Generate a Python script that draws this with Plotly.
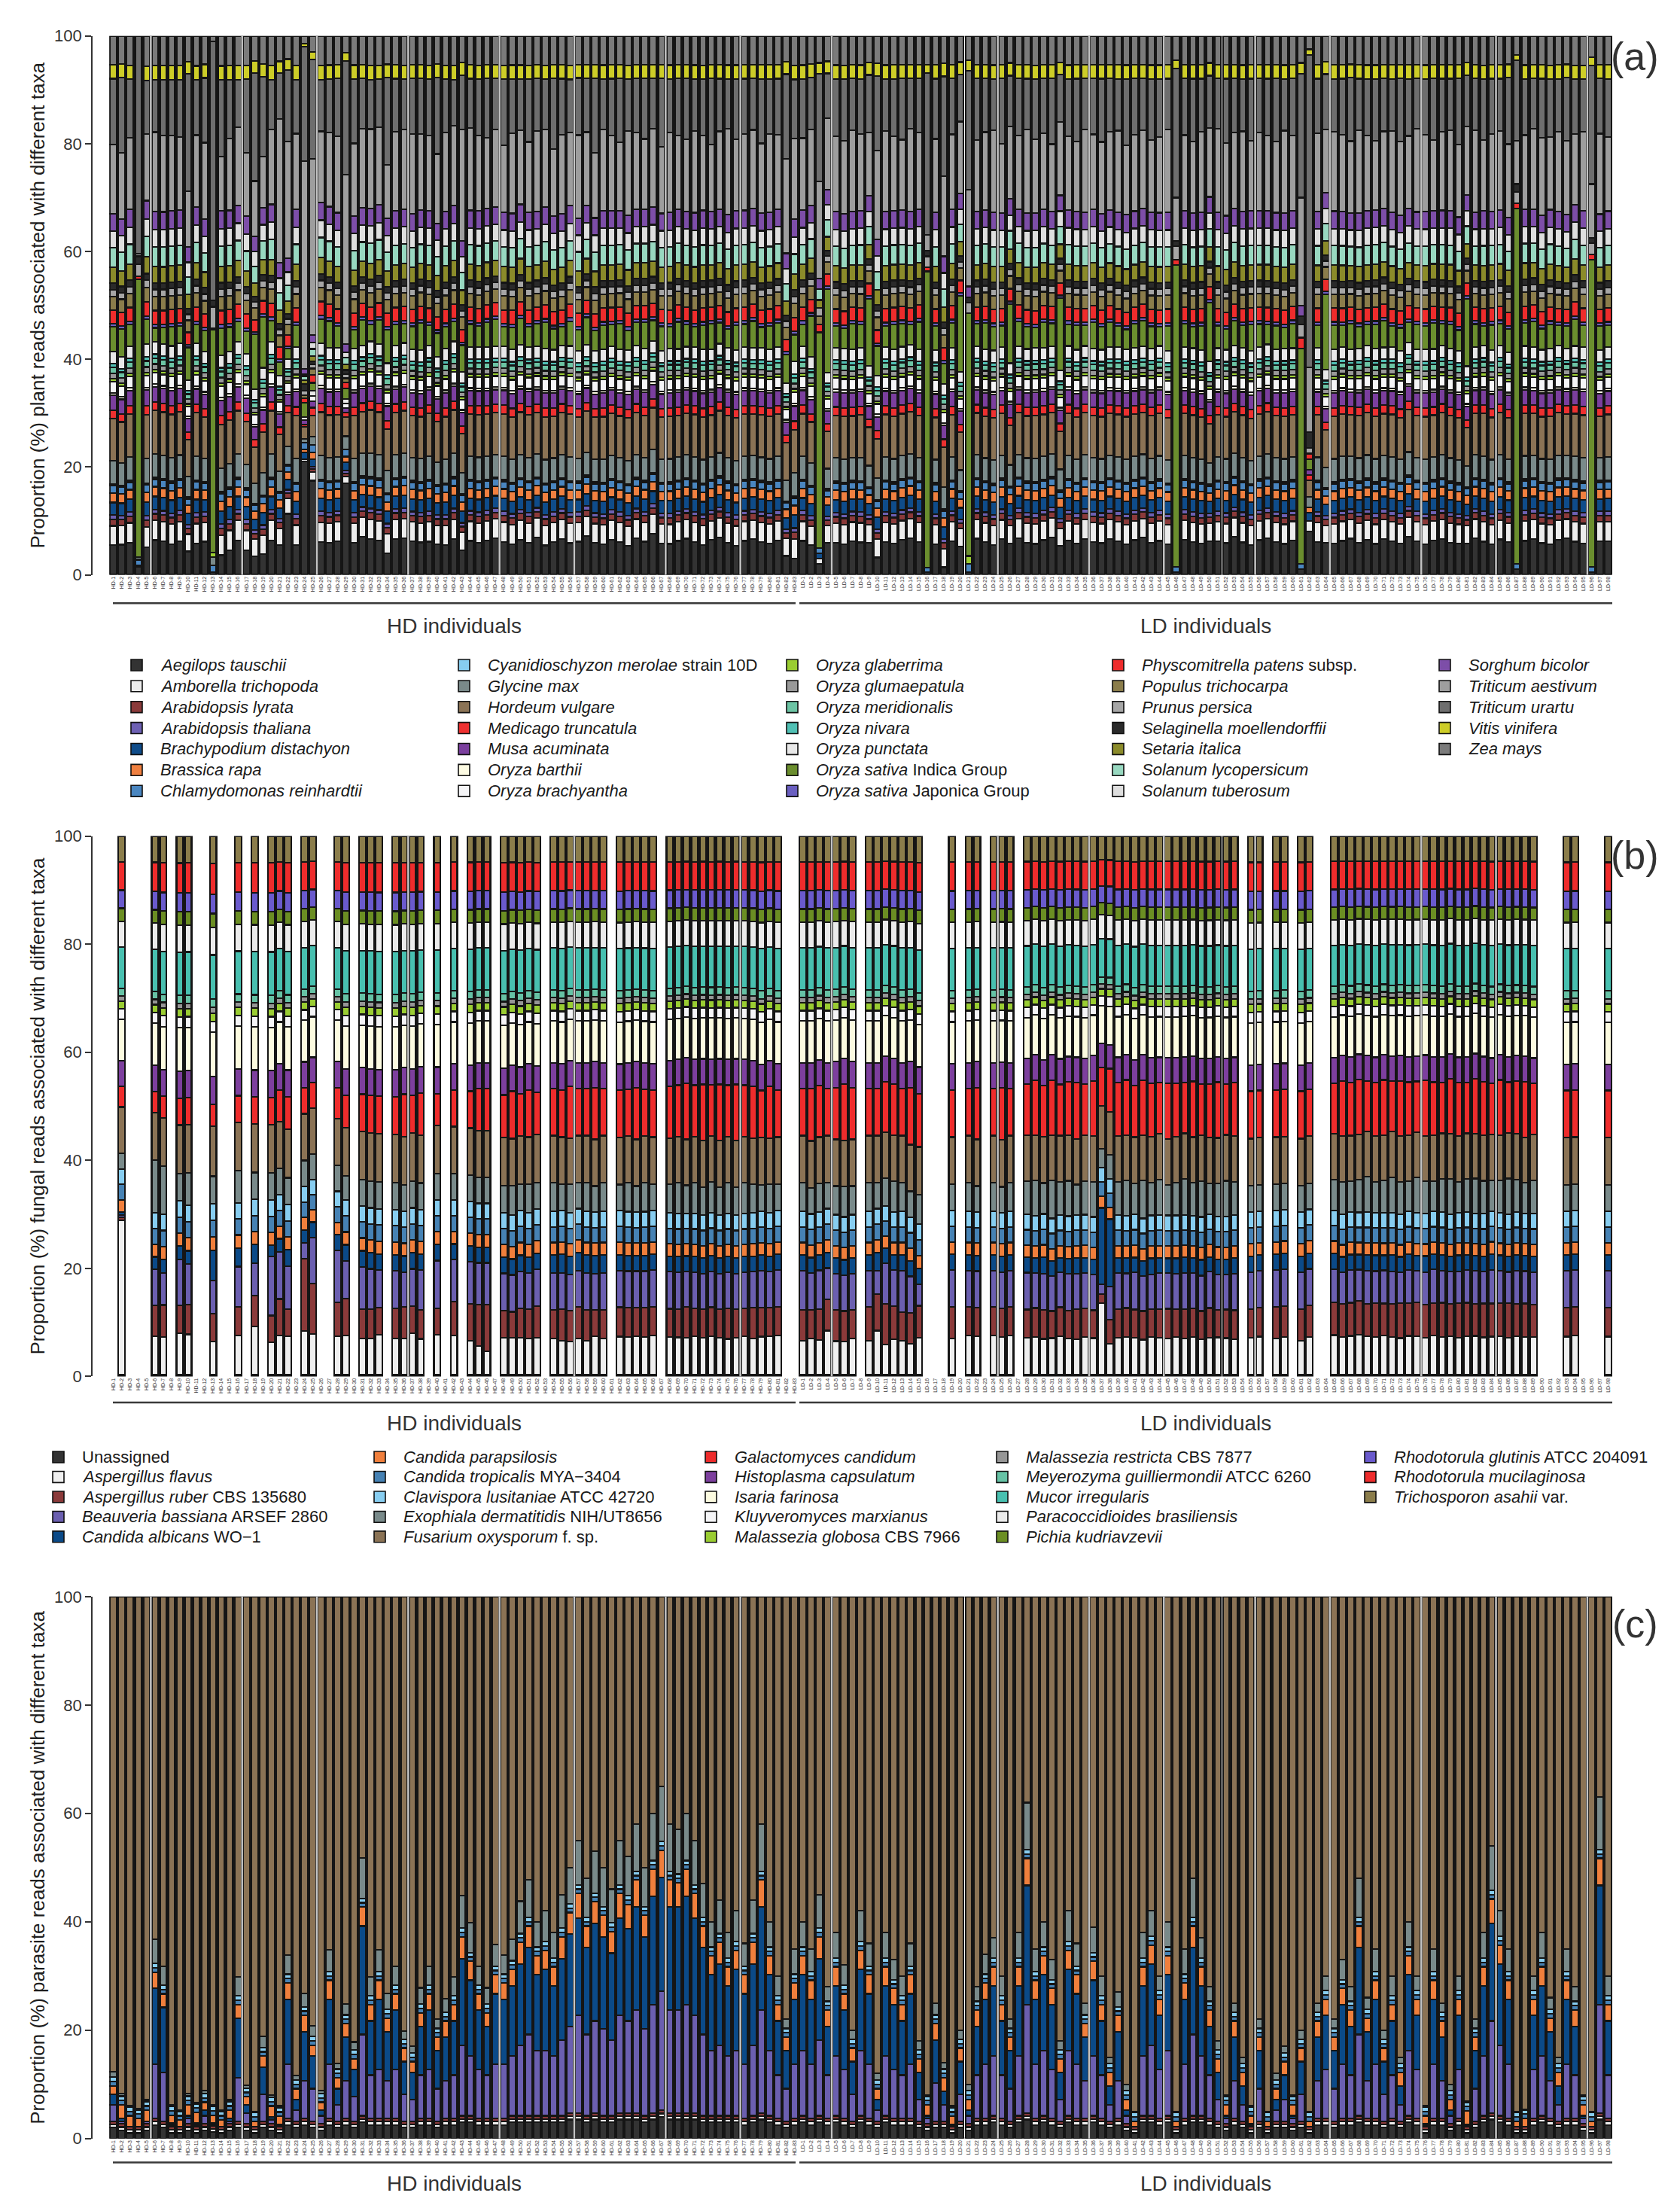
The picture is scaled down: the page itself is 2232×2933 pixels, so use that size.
import plotly.graph_objects as go

W, H = 2232, 2933
N = 181          # samples shown on every panel
N_HD = 83        # first 83 samples are HD individuals, the rest LD

sample_labels = [f"HD-{k}" for k in range(1, N_HD + 1)] + [f"LD-{k}" for k in range(1, N - N_HD + 1)]
# positions of the light-grey group separators (sample index where a new block starts)
group_breaks = [5, 16, 25, 36, 47, 56, 67, 76, 87, 107, 118, 127, 138, 147, 158, 167, 178]

# ---------------------------------------------------------------- panel (a) plants
plant_codes = ["Aeg", "Amb", "Aly", "Ath", "Bdi", "Bra", "Cre", "Cme", "Gma", "Hvu", "Mtr", "Mac",
               "Oba", "Obr", "Ogl", "Ogu", "Ome", "Oni", "Opu", "Osi", "Osj", "Ppa", "Ptr", "Ppe",
               "Smo", "Sit", "Sly", "Stu", "Sbi", "Tae", "Tur", "Vvi", "Zma"]
plant_legend = ["<i>Aegilops tauschii</i>", "<i>Amborella trichopoda</i>", "<i>Arabidopsis lyrata</i>",
                "<i>Arabidopsis thaliana</i>", "<i>Brachypodium distachyon</i>", "<i>Brassica rapa</i>",
                "<i>Chlamydomonas reinhardtii</i>", "<i>Cyanidioschyzon merolae</i> strain 10D",
                "<i>Glycine max</i>", "<i>Hordeum vulgare</i>", "<i>Medicago truncatula</i>",
                "<i>Musa acuminata</i>", "<i>Oryza barthii</i>", "<i>Oryza brachyantha</i>",
                "<i>Oryza glaberrima</i>", "<i>Oryza glumaepatula</i>", "<i>Oryza meridionalis</i>",
                "<i>Oryza nivara</i>", "<i>Oryza punctata</i>", "<i>Oryza sativa</i> Indica Group",
                "<i>Oryza sativa</i> Japonica Group", "<i>Physcomitrella patens</i> subsp.",
                "<i>Populus trichocarpa</i>", "<i>Prunus persica</i>", "<i>Selaginella moellendorffii</i>",
                "<i>Setaria italica</i>", "<i>Solanum lycopersicum</i>", "<i>Solanum tuberosum</i>",
                "<i>Sorghum bicolor</i>", "<i>Triticum aestivum</i>", "<i>Triticum urartu</i>",
                "<i>Vitis vinifera</i>", "<i>Zea mays</i>"]
plant_colors = ["#333333", "#ececec", "#8b3a3a", "#6d60b3", "#0f4c8a", "#f08040", "#4a86c0",
                "#87cef0", "#7a8a8a", "#8b7355", "#ee3030", "#7b3f9e", "#fdfbe3", "#f5f5f7",
                "#9acd32", "#999999", "#6cc4a4", "#50c0b4", "#e8e8e8", "#6b8e2e", "#6a5fc0",
                "#ee2c2c", "#8b7d4b", "#a6a6a6", "#2a2a2a", "#8b8b2a", "#98d8c0", "#dedede",
                "#7d4ea8", "#9e9e9e", "#6e6e6e", "#cdcd28", "#7b7b7b"]
# typical composition (%) of an ordinary bar
plant_typical = [6.4, 3.7, 1.2, 0.8, 2.4, 1.8, 1.4, 0.3, 4.4, 8.0, 1.6, 2.8, 0.5, 2.1, 0.6, 1.0, 1.1,
                 0.7, 2.3, 2.6, 0.6, 2.6, 2.6, 1.3, 1.2, 3.0, 3.7, 3.2, 3.3, 14.7, 9.7, 2.6, 5.5]
# per-sample shares of the taxa that visibly change from bar to bar (0 = see plant_special)
plant_aegilops = [5.6, 5.9, 6.0, 0, 5.0, 6.4, 6.2, 5.7, 6.2, 5.0,
                  5.7, 6.4, 0, 3.6, 4.5, 6.4, 4.6, 4.1, 4.1, 6.4,
                  6.4, 14.5, 5.5, 0, 0, 6.0, 6.0, 6.4, 0, 6.0,
                  7.3, 6.6, 6.4, 4.2, 6.8, 6.8, 6.4, 6.2, 6.2, 6.0,
                  5.5, 6.6, 5.0, 6.4, 6.0, 6.5, 7.0, 6.2, 5.8, 6.6,
                  6.0, 7.2, 5.5, 6.3, 6.8, 5.9, 6.4, 7.5, 6.1, 5.7,
                  6.6, 6.2, 5.4, 6.9, 6.3, 7.8, 6.0, 5.8, 6.5, 6.9,
                  6.2, 5.6, 6.7, 7.1, 6.0, 5.5, 6.4, 6.8, 6.2, 5.9,
                  6.5, 4.0, 3.0, 6.4, 5.8, 0, 6.9, 6.0, 5.7, 6.4,
                  6.1, 6.7, 3.5, 6.2, 5.9, 6.6, 7.0, 6.3, 0, 5.8,
                  1.5, 6.4, 6.0, 0, 6.9, 6.2, 5.6, 6.8, 6.4, 7.0,
                  6.1, 5.8, 6.6, 7.2, 6.0, 6.5, 5.9, 6.8, 6.2, 6.0,
                  6.9, 6.3, 5.7, 6.6, 7.1, 6.0, 6.4, 5.8, 0, 6.7,
                  6.2, 5.9, 6.8, 6.4, 6.0, 7.3, 6.1, 5.6, 6.6, 6.9,
                  6.3, 5.8, 6.5, 0, 0, 6.2, 6.8, 5.9, 6.4, 7.0,
                  6.1, 6.6, 5.8, 6.9, 6.3, 6.0, 7.2, 6.4, 5.7, 6.6,
                  6.8, 6.1, 5.9, 6.5, 7.0, 6.2, 5.8, 6.7, 6.3, 0,
                  6.4, 6.9, 6.0, 5.7, 6.6, 7.1, 6.2, 5.9, 0, 6.5,
                  6.3]
plant_indica = [4.7, 5.5, 4.0, 0, 4.5, 2.6, 3.0, 3.5, 3.2, 7.0,
                3.5, 4.0, 0, 5.0, 4.5, 3.8, 4.2, 12.0, 10.0, 4.0,
                3.0, 2.5, 4.0, 0, 0, 4.5, 5.0, 4.2, 0, 3.5,
                4.8, 3.2, 4.5, 6.5, 4.0, 3.6, 4.4, 5.2, 3.8, 4.6,
                4.1, 3.7, 5.5, 4.3, 3.9, 4.8, 5.1, 3.6, 4.2, 4.9,
                3.8, 4.4, 5.0, 4.0, 3.5, 4.6, 4.1, 5.3, 3.9, 4.5,
                4.2, 4.8, 3.7, 4.4, 5.0, 3.9, 4.6, 4.1, 5.2, 4.3,
                3.8, 4.5, 4.9, 4.0, 3.6, 4.7, 4.3, 5.1, 3.9, 4.4,
                4.6, 6.0, 5.0, 4.2, 8.0, 0, 18.0, 4.1, 3.8, 4.9,
                4.3, 14.0, 6.0, 4.0, 4.7, 4.4, 3.9, 5.2, 0, 4.6,
                4.0, 4.8, 16.0, 0, 4.3, 5.0, 4.5, 4.1, 12.0, 4.7,
                4.2, 3.8, 4.9, 4.4, 15.0, 4.1, 4.6, 3.9, 5.0, 4.3,
                4.8, 4.0, 3.7, 4.5, 4.9, 4.2, 3.6, 4.7, 0, 4.4,
                4.1, 4.6, 12.0, 4.3, 3.9, 4.8, 4.2, 5.0, 4.4, 3.8,
                4.5, 4.0, 4.7, 0, 0, 4.3, 16.0, 4.6, 4.1, 4.9,
                4.2, 3.9, 4.6, 5.1, 4.0, 4.4, 3.8, 4.7, 4.3, 5.0,
                4.1, 4.6, 4.0, 14.0, 4.4, 3.7, 4.8, 4.2, 4.5, 0,
                4.3, 4.9, 4.0, 4.6, 3.8, 4.4, 5.0, 4.1, 0, 4.7,
                4.2]
plant_aestivum = [13.1, 12.9, 13.4, 0, 12.0, 14.7, 14.2, 13.9, 13.6, 12.0,
                  13.2, 14.8, 0, 9.9, 13.3, 14.5, 11.8, 12.2, 10.1, 13.9,
                  31.2, 27.7, 14.0, 0, 0, 13.1, 13.9, 14.5, 0, 13.7,
                  15.2, 14.7, 14.5, 10.4, 15.0, 14.9, 15.3, 14.6, 14.0, 13.6,
                  14.7, 14.8, 22.9, 15.6, 14.2, 13.5, 14.8, 12.6, 15.1, 14.0,
                  13.2, 15.5, 14.4, 12.8, 14.9, 13.6, 16.0, 14.1, 12.5, 15.2,
                  14.3, 13.0, 15.8, 14.6, 13.4, 14.9, 12.7, 15.0, 14.2, 13.8,
                  15.4, 14.0, 12.9, 14.7, 16.2, 13.5, 14.4, 15.1, 13.2, 14.8,
                  14.1, 20.0, 15.0, 13.6, 14.9, 0, 15.3, 14.2, 13.7, 15.6,
                  14.4, 13.1, 18.0, 15.2, 14.0, 13.4, 15.8, 14.6, 0, 13.9,
                  16.0, 14.3, 15.1, 0, 13.6, 14.8, 15.5, 13.2, 14.7, 14.1,
                  15.9, 13.8, 14.5, 12.9, 15.3, 14.0, 13.3, 15.7, 14.2, 13.6,
                  14.9, 15.4, 13.1, 14.6, 15.0, 13.7, 14.3, 15.8, 0, 14.4,
                  13.5, 15.2, 14.1, 16.0, 13.8, 14.7, 15.1, 13.3, 14.9, 14.2,
                  13.6, 15.5, 14.3, 0, 0, 14.8, 13.4, 15.0, 14.5, 13.9,
                  15.6, 14.2, 13.0, 14.8, 15.3, 14.0, 13.7, 15.9, 14.4, 13.5,
                  14.9, 15.2, 13.8, 14.1, 15.7, 13.3, 14.6, 15.0, 14.2, 0,
                  13.9, 15.4, 14.7, 13.6, 15.1, 14.3, 13.2, 14.8, 0, 15.5,
                  14.0]
plant_urartu = [12.5, 14.8, 10.9, 0, 9.7, 9.7, 10.4, 10.4, 10.6, 25.1,
                10.1, 12.5, 0, 14.1, 10.8, 8.8, 13.8, 23.8, 15.7, 9.2,
                9.9, 17.0, 10.0, 0, 0, 9.5, 10.1, 11.0, 0, 12.2,
                9.7, 9.2, 9.0, 16.8, 10.1, 9.5, 10.6, 10.6, 10.6, 15.0,
                9.9, 8.6, 11.1, 9.3, 10.5, 11.2, 9.8, 12.4, 10.3, 9.6,
                11.8, 10.2, 9.4, 13.5, 10.7, 9.9, 11.0, 10.4, 14.2, 9.5,
                10.8, 12.1, 9.7, 10.3, 11.5, 9.6, 13.0, 10.1, 10.9, 11.7,
                9.8, 10.6, 12.8, 10.0, 9.4, 11.3, 10.5, 9.9, 12.2, 10.4,
                10.7, 18.0, 11.0, 11.2, 10.1, 0, 9.7, 10.8, 11.5, 9.9,
                10.4, 12.0, 15.0, 9.8, 10.9, 11.6, 9.5, 10.3, 0, 11.4,
                20.0, 10.6, 9.9, 0, 11.8, 10.2, 9.7, 12.5, 10.4, 10.9,
                9.6, 11.3, 10.5, 12.7, 9.9, 10.8, 11.9, 9.7, 10.6, 12.0,
                10.3, 9.8, 12.4, 10.7, 10.0, 11.5, 10.9, 9.6, 0, 10.8,
                11.9, 10.1, 10.6, 9.5, 12.2, 10.4, 9.9, 11.7, 10.3, 10.8,
                12.0, 9.7, 10.9, 0, 0, 10.3, 11.8, 10.0, 10.6, 12.3,
                9.8, 10.7, 11.6, 10.2, 9.9, 12.1, 10.8, 9.6, 10.5, 11.9,
                10.1, 9.8, 12.6, 10.7, 10.0, 11.4, 10.5, 9.9, 12.8, 0,
                10.6, 9.7, 11.2, 10.9, 10.0, 12.2, 10.3, 9.8, 0, 10.7,
                11.0]
# bars whose whole composition departs from the usual pattern
plant_special = {
    3: {"Aeg": 1.5, "Amb": 0.3, "Cre": 1.0, "Gma": 0.5, "Osi": 51.5, "Ppa": 0.6, "Ppe": 2.2,
        "Smo": 1.5, "Tae": 0.5, "Tur": 40.4},
    12: {"Aeg": 0.5, "Cre": 1.3, "Gma": 1.5, "Ogl": 0.8, "Osi": 41.3, "Ppa": 0.3, "Ppe": 4.0,
         "Smo": 1.2, "Tur": 48.0, "Zma": 1.0},
    23: {"Aeg": 21.0, "Amb": 0.5, "Bdi": 1.2, "Bra": 0.6, "Cre": 1.2, "Gma": 0.8, "Hvu": 2.2,
         "Mtr": 0.4, "Mac": 0.8, "Obr": 0.6, "Osi": 2.7, "Ppa": 0.8, "Ptr": 0.6, "Ppe": 0.8,
         "Smo": 1.2, "Sit": 0.8, "Sly": 0.6, "Stu": 0.4, "Sbi": 1.0, "Tae": 38.7, "Tur": 21.2,
         "Vvi": 0.6, "Zma": 1.4},
    24: {"Aeg": 17.8, "Amb": 1.6, "Aly": 0.6, "Ath": 0.4, "Bdi": 1.5, "Bra": 1.2, "Cre": 1.5,
         "Gma": 1.5, "Hvu": 4.0, "Mtr": 1.5, "Mac": 1.2, "Obr": 1.0, "Opu": 1.0, "Osi": 1.5,
         "Ppa": 1.5, "Ptr": 1.2, "Ppe": 0.8, "Smo": 0.6, "Sit": 1.0, "Sly": 1.3, "Stu": 1.2,
         "Sbi": 1.5, "Tae": 33.3, "Tur": 18.7, "Vvi": 1.5, "Zma": 3.0},
    28: {"Aeg": 16.6, "Amb": 1.2, "Aly": 0.5, "Ath": 0.6, "Bdi": 1.5, "Bra": 1.0, "Cre": 1.3,
         "Gma": 2.4, "Hvu": 3.5, "Mtr": 0.8, "Mac": 0.8, "Obr": 0.8, "Opu": 0.8, "Osi": 2.0,
         "Ppa": 1.0, "Ptr": 0.8, "Ppe": 0.7, "Smo": 0.8, "Sit": 1.0, "Sly": 1.2, "Stu": 1.0,
         "Sbi": 1.5, "Tae": 30.7, "Tur": 20.6, "Vvi": 1.5, "Zma": 3.0},
    85: {"Aeg": 2.0, "Amb": 1.0, "Bdi": 1.0, "Cre": 1.0, "Osi": 40.0, "Ppa": 1.5, "Ptr": 1.5,
         "Ppe": 1.5, "Sit": 1.5, "Sly": 2.0, "Sbi": 2.0, "Tae": 18.0, "Tur": 20.0, "Vvi": 2.0,
         "Zma": 5.0},
    98: {"Aeg": 0.5, "Cre": 0.8, "Osi": 55.0, "Ppa": 0.8, "Smo": 1.0, "Ppe": 2.0, "Tae": 3.0,
         "Tur": 30.0, "Vvi": 1.5, "Zma": 5.4},
    103: {"Aeg": 0.5, "Cre": 1.5, "Ogl": 1.5, "Osi": 45.0, "Smo": 1.0, "Ppe": 2.0, "Sbi": 2.0,
          "Tae": 18.0, "Tur": 22.0, "Vvi": 2.0, "Zma": 4.5},
    128: {"Aeg": 0.5, "Cre": 1.0, "Osi": 56.0, "Ppa": 1.0, "Smo": 1.0, "Ppe": 2.5, "Tae": 8.0,
          "Tur": 24.0, "Vvi": 1.5, "Zma": 4.5},
    143: {"Aeg": 1.0, "Cre": 1.0, "Osi": 40.0, "Ppa": 2.0, "Smo": 1.5, "Ppe": 2.5, "Sbi": 2.0,
          "Tae": 20.0, "Tur": 23.0, "Vvi": 2.0, "Zma": 5.0},
    144: {"Aeg": 8.0, "Amb": 2.0, "Bdi": 1.5, "Bra": 1.0, "Gma": 2.0, "Hvu": 3.0, "Mtr": 1.0,
          "Mac": 1.0, "Osi": 2.0, "Ppa": 1.0, "Smo": 3.0, "Ppe": 1.0, "Tae": 12.0, "Tur": 58.0,
          "Vvi": 1.0, "Zma": 2.5},
    169: {"Aeg": 1.0, "Cre": 1.0, "Osi": 66.0, "Ppa": 1.0, "Smo": 1.5, "Ppe": 2.0, "Tae": 8.0,
          "Tur": 15.0, "Vvi": 1.0, "Zma": 3.5},
    178: {"Aeg": 0.5, "Cre": 1.0, "Osi": 57.0, "Ppa": 1.0, "Smo": 1.0, "Ppe": 2.0, "Tae": 10.0,
          "Tur": 22.0, "Vvi": 1.5, "Zma": 4.0},
}

# ---------------------------------------------------------------- panel (b) fungi
fungal_codes = ["Una", "Afl", "Aru", "Bba", "Cal", "Cpa", "Ctr", "Clu", "Ede", "Fox", "Gca", "Hca",
                "Ifa", "Kma", "Mgl", "Mre", "Mgu", "Mir", "Pbr", "Pku", "Rgl", "Rmu", "Tas"]
fungal_legend = ["Unassigned", "<i>Aspergillus flavus</i>", "<i>Aspergillus ruber</i> CBS 135680",
                 "<i>Beauveria bassiana</i> ARSEF 2860", "<i>Candida albicans</i> WO\u22121",
                 "<i>Candida parapsilosis</i>", "<i>Candida tropicalis</i> MYA\u22123404",
                 "<i>Clavispora lusitaniae</i> ATCC 42720", "<i>Exophiala dermatitidis</i> NIH/UT8656",
                 "<i>Fusarium oxysporum</i> f. sp.", "<i>Galactomyces candidum</i>",
                 "<i>Histoplasma capsulatum</i>", "<i>Isaria farinosa</i>", "<i>Kluyveromyces marxianus</i>",
                 "<i>Malassezia globosa</i> CBS 7966", "<i>Malassezia restricta</i> CBS 7877",
                 "<i>Meyerozyma guilliermondii</i> ATCC 6260", "<i>Mucor irregularis</i>",
                 "<i>Paracoccidioides brasiliensis</i>", "<i>Pichia kudriavzevii</i>",
                 "<i>Rhodotorula glutinis</i> ATCC 204091", "<i>Rhodotorula mucilaginosa</i>",
                 "<i>Trichosporon asahii</i> var."]
fungal_colors = ["#333333", "#efefef", "#8b3a3a", "#6b5fb0", "#0b4a88", "#f07f3c", "#4682b4",
                 "#87cdf0", "#798a8a", "#8b7355", "#ee2c2c", "#7d3f9e", "#fcfbe0", "#f5f5f7",
                 "#9acd32", "#969696", "#66c2a5", "#48c0b0", "#ebebeb", "#6b8e23", "#6a5acd",
                 "#ee2c2c", "#8b7d4b"]
fungal_typical = [0.3, 7.2, 5.4, 6.7, 2.8, 2.4, 3.0, 3.0, 4.8, 9.0, 7.0, 5.0, 8.0, 2.0, 1.5, 1.0,
                  1.5, 8.0, 5.0, 2.5, 3.5, 5.5, 5.0]
# 1 = the sample has a fungal bar, 0 = empty slot
fungal_present = [0, 1, 0, 0, 0, 1, 1, 0, 1, 1,
                  0, 0, 1, 0, 0, 1, 0, 1, 0, 1,
                  1, 1, 0, 1, 1, 0, 0, 1, 1, 0,
                  1, 1, 1, 0, 1, 1, 1, 1, 0, 1,
                  0, 1, 0, 1, 1, 1, 0, 1, 1, 1,
                  1, 1, 0, 1, 1, 1, 1, 1, 1, 1,
                  0, 1, 1, 1, 1, 1, 0, 1, 1, 1,
                  1, 1, 1, 1, 1, 1, 1, 1, 1, 1,
                  1, 0, 0, 1, 1, 1, 1, 1, 1, 1,
                  0, 1, 1, 1, 1, 1, 1, 1, 0, 0,
                  0, 1, 0, 1, 1, 0, 1, 1, 1, 0,
                  1, 1, 1, 1, 1, 1, 1, 1, 1, 1,
                  1, 1, 1, 1, 1, 1, 1, 1, 1, 1,
                  1, 1, 1, 1, 1, 1, 0, 1, 1, 0,
                  1, 1, 0, 1, 1, 0, 0, 1, 1, 1,
                  1, 1, 1, 1, 1, 1, 1, 1, 1, 1,
                  1, 1, 1, 1, 1, 1, 1, 1, 1, 1,
                  1, 1, 0, 0, 0, 1, 1, 0, 0, 0,
                  1]
fungal_flavus = [0, 30.0, 0, 0, 0, 7.3, 7.0, 0, 7.7, 7.5,
                 0, 0, 6.0, 0, 0, 7.3, 0, 9.0, 0, 6.0,
                 7.5, 7.2, 0, 8.4, 8.0, 0, 0, 7.5, 7.3, 0,
                 6.8, 6.8, 7.5, 0, 6.8, 6.8, 7.8, 6.8, 0, 7.5,
                 0, 7.5, 0, 6.5, 5.5, 4.5, 0, 7.0, 7.0, 7.0,
                 7.0, 7.0, 0, 7.0, 6.5, 6.5, 7.0, 6.5, 7.5, 7.0,
                 0, 7.3, 7.3, 7.5, 7.3, 7.5, 0, 7.3, 7.3, 7.3,
                 7.5, 7.3, 7.5, 7.3, 7.0, 7.3, 7.5, 7.0, 7.3, 7.5,
                 7.5, 0, 0, 6.5, 7.0, 6.8, 8.5, 6.5, 6.5, 7.0,
                 0, 6.5, 8.5, 6.0, 7.0, 6.5, 6.0, 7.0, 0, 0,
                 0, 7.0, 0, 7.5, 7.5, 0, 7.5, 7.3, 7.5, 0,
                 7.3, 7.5, 7.0, 7.3, 7.5, 7.2, 7.0, 7.4, 7.3, 15.0,
                 6.5, 7.3, 7.5, 7.2, 7.0, 7.5, 7.3, 7.1, 7.4, 7.2,
                 7.5, 7.0, 7.3, 7.4, 7.2, 7.0, 0, 7.0, 7.3, 0,
                 7.0, 7.2, 0, 6.5, 7.3, 0, 0, 7.8, 7.5, 7.7,
                 8.0, 7.6, 7.4, 7.8, 7.5, 7.3, 7.7, 7.6, 7.4, 7.8,
                 7.5, 7.7, 7.3, 7.6, 7.8, 7.4, 7.5, 7.7, 7.3, 7.6,
                 7.5, 7.4, 0, 0, 0, 7.3, 7.5, 0, 0, 0,
                 7.3]
fungal_ruber = [0, 0.5, 0, 0, 0, 5.9, 6.0, 0, 5.2, 5.5,
                0, 0, 5.0, 0, 0, 5.4, 0, 5.7, 0, 5.0,
                7.0, 5.0, 0, 14.0, 10.0, 0, 0, 6.5, 7.0, 0,
                5.5, 5.5, 5.0, 0, 5.5, 6.0, 5.0, 5.5, 0, 5.0,
                0, 6.5, 0, 7.0, 8.0, 9.0, 0, 5.0, 5.0, 5.5,
                5.5, 6.0, 0, 5.5, 6.0, 6.0, 6.0, 6.0, 5.0, 5.5,
                0, 5.6, 5.6, 5.5, 5.6, 5.5, 0, 5.5, 5.5, 6.0,
                5.5, 5.5, 5.7, 5.5, 6.0, 5.5, 5.5, 6.0, 5.5, 5.5,
                5.5, 0, 0, 6.0, 5.5, 6.0, 6.0, 6.0, 6.0, 5.5,
                0, 6.5, 7.0, 8.0, 6.5, 5.5, 6.0, 6.0, 0, 0,
                0, 6.0, 0, 5.5, 5.5, 0, 5.5, 5.5, 5.5, 0,
                5.5, 5.8, 5.6, 5.4, 5.7, 5.5, 5.9, 5.6, 5.5, 2.0,
                5.0, 5.6, 5.8, 5.5, 5.7, 5.4, 5.6, 5.9, 5.5, 5.7,
                5.6, 5.5, 5.8, 5.4, 5.6, 5.7, 0, 5.5, 5.5, 0,
                6.0, 6.0, 0, 6.0, 6.0, 0, 0, 6.4, 6.6, 6.5,
                6.8, 6.5, 6.7, 6.4, 6.6, 6.9, 6.5, 6.7, 6.6, 6.4,
                6.7, 6.5, 6.8, 6.6, 6.4, 6.7, 6.5, 6.6, 6.8, 6.5,
                6.6, 6.4, 0, 0, 0, 5.5, 5.5, 0, 0, 0,
                5.5]
fungal_beauveria = [0, 0.5, 0, 0, 0, 6.9, 6.0, 0, 8.4, 7.5,
                    0, 0, 6.0, 0, 0, 7.5, 0, 6.0, 0, 11.0,
                    9.0, 8.0, 0, 3.0, 9.0, 0, 0, 10.0, 7.0, 0,
                    8.0, 7.5, 7.0, 0, 7.0, 6.5, 7.0, 7.5, 0, 9.0,
                    0, 8.0, 0, 8.0, 8.0, 8.0, 0, 7.0, 7.0, 7.0,
                    7.0, 7.0, 0, 7.0, 7.0, 7.0, 7.0, 7.0, 7.0, 7.0,
                    0, 7.0, 7.0, 7.0, 7.0, 7.0, 0, 7.2, 7.2, 7.0,
                    7.0, 7.0, 7.0, 7.0, 7.0, 7.0, 7.0, 7.0, 7.0, 7.0,
                    7.0, 0, 0, 7.5, 7.0, 7.5, 6.0, 7.0, 7.0, 7.0,
                    0, 7.0, 4.5, 8.0, 7.0, 8.0, 7.0, 4.0, 0, 0,
                    0, 7.0, 0, 7.0, 7.0, 0, 7.0, 7.0, 7.0, 0,
                    7.2, 6.9, 7.1, 7.0, 6.8, 7.2, 7.0, 6.9, 7.1, 2.0,
                    7.0, 7.1, 6.9, 7.2, 7.0, 6.8, 7.1, 7.0, 6.9, 7.2,
                    7.0, 6.9, 7.1, 7.0, 6.8, 7.2, 0, 7.0, 7.0, 0,
                    7.0, 7.0, 0, 7.0, 7.0, 0, 0, 6.5, 6.3, 6.4,
                    6.2, 6.5, 6.3, 6.6, 6.4, 6.2, 6.5, 6.3, 6.4, 6.6,
                    6.3, 6.5, 6.2, 6.4, 6.6, 6.3, 6.5, 6.4, 6.2, 6.5,
                    6.4, 6.3, 0, 0, 0, 7.0, 7.0, 0, 0, 0,
                    7.0]
fungal_albicans = [0, 0.5, 0, 0, 0, 2.3, 2.5, 0, 2.5, 2.5,
                   0, 0, 5.5, 0, 0, 3.5, 0, 3.5, 0, 2.0,
                   2.5, 3.0, 0, 2.5, 3.0, 0, 0, 3.0, 3.0, 0,
                   3.0, 3.0, 3.0, 0, 3.0, 3.0, 3.0, 3.0, 0, 3.0,
                   0, 3.0, 0, 3.0, 3.0, 3.0, 0, 3.0, 3.0, 3.0,
                   3.0, 3.0, 0, 3.5, 3.5, 3.5, 3.5, 3.5, 3.5, 3.5,
                   0, 3.0, 3.0, 3.0, 3.0, 3.0, 0, 3.0, 3.0, 3.0,
                   3.0, 3.0, 3.0, 3.0, 3.0, 3.0, 3.0, 3.0, 3.0, 3.0,
                   3.0, 0, 0, 3.0, 3.0, 3.0, 3.0, 3.0, 3.0, 3.0,
                   0, 3.0, 3.5, 3.0, 3.0, 3.0, 3.0, 3.0, 0, 0,
                   0, 3.0, 0, 3.0, 3.0, 0, 3.0, 3.0, 3.0, 0,
                   3.0, 3.0, 3.2, 3.0, 2.8, 3.0, 3.1, 3.0, 3.0, 16.0,
                   14.0, 3.0, 3.1, 2.9, 3.0, 3.2, 3.0, 2.9, 3.1, 3.0,
                   3.0, 3.1, 2.9, 3.0, 3.0, 3.1, 0, 3.0, 3.0, 0,
                   3.0, 3.0, 0, 3.0, 3.0, 0, 0, 3.2, 3.0, 3.1,
                   3.0, 3.2, 3.1, 3.0, 3.2, 3.0, 3.1, 3.0, 3.2, 3.0,
                   3.1, 3.0, 3.2, 3.0, 3.1, 3.0, 3.2, 3.1, 3.0, 3.2,
                   3.0, 3.1, 0, 0, 0, 3.0, 3.0, 0, 0, 0,
                   3.0]
fungal_exophiala = [0, 3.0, 0, 0, 0, 10.0, 9.0, 0, 5.0, 6.0,
                    0, 0, 5.0, 0, 0, 6.0, 0, 5.0, 0, 5.0,
                    5.0, 5.0, 0, 5.0, 5.0, 0, 0, 5.0, 4.5, 0,
                    5.0, 5.0, 5.0, 0, 5.0, 5.0, 5.0, 5.0, 0, 5.0,
                    0, 5.0, 0, 5.0, 5.0, 5.0, 0, 5.0, 5.5, 5.0,
                    5.5, 5.0, 0, 5.5, 5.0, 5.5, 5.0, 5.5, 5.0, 5.5,
                    0, 5.0, 5.5, 5.0, 5.5, 5.0, 0, 5.5, 6.0, 5.5,
                    6.0, 5.5, 6.0, 5.5, 6.0, 5.5, 6.0, 5.5, 5.0, 5.5,
                    5.0, 0, 0, 5.5, 5.0, 5.5, 5.0, 5.5, 6.0, 5.5,
                    0, 5.5, 5.0, 5.5, 6.0, 5.5, 5.0, 5.5, 0, 0,
                    0, 5.0, 0, 5.5, 5.0, 0, 5.5, 5.0, 5.5, 0,
                    6.5, 7.0, 6.0, 7.5, 6.5, 7.0, 6.0, 6.5, 7.0, 4.0,
                    5.0, 6.5, 7.0, 6.0, 7.5, 6.5, 7.0, 6.0, 6.5, 7.0,
                    6.5, 7.0, 6.0, 6.5, 7.0, 6.5, 0, 5.0, 5.0, 0,
                    5.0, 5.0, 0, 5.0, 5.0, 0, 0, 6.0, 6.5, 6.0,
                    6.5, 7.0, 6.0, 6.5, 7.0, 6.5, 6.0, 7.0, 6.5, 6.0,
                    6.5, 7.0, 6.0, 6.5, 7.0, 6.5, 6.0, 6.5, 7.0, 6.5,
                    6.0, 6.5, 0, 0, 0, 5.0, 5.0, 0, 0, 0,
                    5.0]
fungal_galactomyces = [0, 4.0, 0, 0, 0, 4.0, 4.0, 0, 5.0, 5.0,
                       0, 0, 4.0, 0, 0, 5.0, 0, 5.0, 0, 5.0,
                       6.0, 6.0, 0, 5.0, 5.0, 0, 0, 6.0, 6.0, 0,
                       7.0, 7.0, 7.0, 0, 7.0, 8.0, 7.0, 8.0, 0, 6.0,
                       0, 7.0, 0, 7.0, 8.0, 8.0, 0, 8.0, 9.0, 8.0,
                       9.0, 8.0, 0, 9.0, 9.0, 10.0, 9.0, 9.0, 10.0, 9.0,
                       0, 9.0, 9.0, 10.0, 9.0, 9.0, 0, 10.0, 10.0, 11.0,
                       10.0, 11.0, 10.0, 11.0, 10.0, 11.0, 10.0, 10.0, 9.0, 10.0,
                       9.0, 0, 0, 9.0, 10.0, 10.0, 9.0, 10.0, 11.0, 10.0,
                       0, 9.0, 9.0, 10.0, 10.0, 9.0, 11.0, 10.0, 0, 0,
                       0, 9.0, 0, 9.0, 10.0, 0, 9.0, 10.0, 9.0, 0,
                       10.0, 11.0, 10.0, 11.0, 10.0, 10.5, 11.0, 10.0, 11.0, 8.0,
                       9.0, 10.5, 11.0, 10.0, 11.0, 10.5, 10.0, 11.0, 10.5, 10.0,
                       11.0, 10.0, 10.5, 11.0, 10.0, 10.5, 0, 9.0, 9.0, 0,
                       9.0, 9.0, 0, 9.0, 9.0, 0, 0, 10.0, 11.0, 10.5,
                       11.0, 10.0, 10.5, 11.0, 10.0, 11.0, 10.5, 10.0, 11.0, 10.5,
                       10.0, 11.0, 10.5, 10.0, 11.0, 10.5, 10.0, 11.0, 10.0, 10.5,
                       11.0, 10.0, 0, 0, 0, 9.0, 9.0, 0, 0, 0,
                       9.0]

# ---------------------------------------------------------------- panel (c) parasites
parasite_codes = fungal_codes[:10]
parasite_colors = fungal_colors[:10]
parasite_minor = {"Afl": 0.6, "Aru": 0.6, "Ctr": 0.8, "Clu": 0.8}
parasite_unassigned = [2, 1.5, 1, 1, 1.5, 2.5, 2, 1, 1, 1.5,
                       1, 1.5, 1.2, 1, 1.5, 2, 1.5, 1, 2, 1.5,
                       1, 2.5, 2, 2.5, 2, 1.5, 2.5, 2, 2.5, 2,
                       3, 2.5, 2.5, 2.5, 2.5, 2, 2, 2.5, 2.5, 2,
                       2.5, 2.5, 3, 3, 2.5, 2.5, 2.5, 2.5, 3, 3,
                       3, 3, 3, 3, 3, 3.5, 3.5, 3, 3.5, 3,
                       3, 3.5, 3.5, 3.5, 3, 3.5, 4, 3.5, 3.5, 3.5,
                       3.5, 3, 3, 3, 3, 3, 2.5, 3, 3.5, 3,
                       2.5, 2, 2.5, 3, 2.5, 3, 2.5, 3, 2.5, 2,
                       3, 2.5, 2, 3, 2.5, 2.5, 2.5, 2, 1.5, 2,
                       2, 1, 2, 1.5, 2.5, 2.5, 3, 2.5, 2, 3,
                       3.5, 2.5, 3, 2.5, 2, 3, 2.5, 2.5, 3, 2.5,
                       2, 2.5, 1.5, 1, 3, 3, 2.5, 3, 1, 2.5,
                       3, 3, 2.5, 2, 1.5, 2.5, 2, 1, 2, 1,
                       2, 2, 1.5, 2, 1, 2.5, 2.5, 2, 2.5, 2.5,
                       3, 2.5, 2.5, 2, 2.5, 2, 3, 2.5, 1, 2.5,
                       2.5, 1.5, 2.5, 1, 2, 3, 3.5, 3, 2.5, 1,
                       1, 2.5, 3, 2.5, 2, 2.5, 2.5, 1.5, 1, 3.5,
                       2.5]
parasite_beauveria = [3, 0.5, 0, 0, 0.5, 10, 9, 0.3, 0, 1,
                      0.3, 1.5, 0.2, 0, 0.5, 8, 2, 0, 5, 0.8,
                      0.2, 10, 2, 7, 6, 1.5, 10, 3, 7, 4.5,
                      15, 8, 9, 7, 9, 5, 4, 8, 9, 6,
                      7, 8, 13, 11, 9, 8, 10, 10, 11, 13,
                      15, 12, 12, 11, 14, 16, 18, 15, 17, 16,
                      14, 18, 17, 19, 16, 20, 22, 19, 19, 20,
                      18, 15, 12, 13, 11, 12, 10, 13, 19, 12,
                      8, 6, 10, 12, 10, 14, 8, 11, 9, 5,
                      12, 10, 2, 11, 9, 8, 10, 4, 1, 7,
                      3, 0.2, 5, 1.5, 8, 10, 11, 8, 6, 11,
                      20, 10, 12, 9, 4, 12, 10, 7, 11, 8,
                      3, 7, 1.5, 0, 11, 13, 9, 12, 0, 10,
                      15, 11, 8, 4, 1, 7, 3, 0.3, 6, 0,
                      2, 4, 1, 5, 0, 7, 9, 6, 10, 8,
                      15, 7, 10, 5, 8, 3, 12, 9, 0.3, 10,
                      7, 1.5, 9, 0.2, 6, 11, 17, 13, 10, 0,
                      0, 9, 11, 7, 3, 10, 8, 1, 0, 20,
                      8]
parasite_albicans = [2, 0.5, 0, 0, 0, 14, 12, 0.3, 0, 0.5,
                     0.3, 1, 0.2, 0, 0.5, 11, 1.5, 0, 5, 0.5,
                     0.2, 12, 2, 9, 6, 1, 12, 3, 8, 5,
                     20, 10, 13, 9, 11, 6, 5, 9, 11, 7,
                     8, 10, 16, 14, 11, 9, 13, 12, 13, 15,
                     16, 14, 15, 13, 15, 17, 18, 16, 18, 17,
                     16, 18, 17, 19, 17, 20, 21, 19, 19, 20,
                     18, 16, 14, 15, 13, 15, 13, 15, 19, 14,
                     10, 7, 12, 14, 12, 15, 9, 13, 11, 6,
                     15, 13, 2, 13, 12, 10, 13, 5, 0.5, 8,
                     2.5, 0.2, 6, 1, 9, 12, 13, 10, 7, 13,
                     22, 12, 14, 12, 5, 15, 13, 8, 14, 10,
                     3.5, 9, 1, 0, 13, 15, 10, 14, 0, 12,
                     16, 13, 9, 5, 0.5, 8, 3.5, 0.2, 7, 0,
                     2, 4.5, 0.5, 6, 0, 8, 10, 7, 11, 9,
                     16, 9, 12, 6, 10, 3.5, 14, 10, 0.2, 12,
                     8, 1, 10, 0.2, 7, 13, 18, 15, 12, 0,
                     0, 10, 13, 9, 3.5, 12, 9, 0.5, 0, 22,
                     10]
parasite_parapsilosis = [1.5, 2.5, 2, 1.5, 2, 3, 2.5, 1.5, 1.2, 2,
                         2, 1.5, 1.5, 1.2, 1.5, 2.5, 1.5, 1, 2, 2,
                         1.5, 3, 2, 3, 2, 1.5, 3.5, 2, 2.5, 2,
                         3.5, 3, 3.5, 2.5, 3, 2.5, 2, 2.5, 3, 2.5,
                         3, 3, 4, 3.5, 3, 2.5, 3.5, 3, 3, 4,
                         4, 3.5, 3.5, 3.5, 4, 4, 4.5, 4, 4, 4,
                         4, 4.5, 4.5, 5, 4, 5, 5, 5, 4.5, 5,
                         4.5, 4, 3.5, 4, 3.5, 3.5, 3.5, 4, 5, 3.5,
                         3, 2.5, 3, 3.5, 3.5, 4, 3, 3.5, 3, 2.5,
                         3.5, 3.5, 2, 3.5, 3, 3, 3.5, 2.5, 2, 3,
                         2.5, 1.5, 2.5, 2, 3, 3, 3.5, 3, 2.5, 3.5,
                         5, 3.5, 3.5, 3, 2.5, 3.5, 3.5, 2.5, 3.5, 3,
                         2.5, 3, 2, 1, 3.5, 3.5, 3, 3.5, 1, 3,
                         4, 3.5, 3, 2.5, 2, 3, 2.5, 1.5, 2.5, 1,
                         2, 2.5, 2, 2.5, 1, 3, 3, 2.5, 3, 3,
                         4, 2.5, 3.5, 2.5, 3, 2.5, 3.5, 3, 1.5, 3.5,
                         3, 2, 3, 2.5, 2.5, 3.5, 4.5, 3.5, 3.5, 1,
                         1.5, 3, 3.5, 2.5, 2.5, 3.5, 3, 2, 1, 5,
                         3]
parasite_exophiala = [1, 0.5, 0.3, 0.2, 0.3, 4.5, 3.5, 0.3, 0.2, 0.5,
                      0.2, 0.5, 0.3, 0.2, 0.3, 3.5, 0.5, 0.2, 2, 0.4,
                      0.3, 3.5, 0.8, 2.5, 2, 0.5, 4, 1, 2, 1.5,
                      7.5, 3.5, 4, 3, 3.5, 1.5, 1.2, 3, 3.5, 1.7,
                      2.5, 3.5, 6, 5.5, 3.5, 3, 4, 3.5, 4, 6,
                      7, 4.7, 5.7, 4.7, 6.2, 6.7, 8.2, 7.2, 7.7, 7.2,
                      6.2, 8.2, 7.2, 8.7, 7.2, 8.7, 10.2, 8.7, 8.2, 8.7,
                      8.2, 6.2, 4.7, 6.2, 4.7, 5.7, 4.2, 6.2, 8.7, 4.7,
                      3.7, 1.7, 4.7, 4.7, 4.2, 6.2, 2.7, 4.7, 3.7, 1.7,
                      5.7, 4.2, 1.2, 4.7, 3.7, 3.7, 4.2, 1.7, 0.2, 2.2,
                      1.2, 0.3, 1.7, 1.2, 2.7, 3.7, 3.7, 3.7, 1.7, 4.7,
                      8.7, 4.2, 4.7, 3.7, 1.7, 5.7, 4.2, 2.2, 4.7, 3.7,
                      1.2, 2.7, 1.2, 0.1, 4.7, 4.7, 2.7, 4.7, 0.1, 4.7,
                      7.2, 3.7, 2.7, 1.7, 0.2, 1.7, 1.2, 0.2, 1.7, 0.2,
                      1.2, 1.2, 0.2, 1.7, 0.2, 1.7, 2.7, 1.7, 3.7, 2.7,
                      7.2, 2.2, 4.2, 1.7, 3.7, 1.2, 4.7, 2.7, 0.2, 4.2,
                      1.7, 1.2, 2.7, 0.2, 1.7, 4.7, 8.2, 4.7, 4.2, 0.1,
                      0.1, 2.7, 4.7, 2.2, 1.2, 4.2, 2.7, 0.2, 0.1, 9.7,
                      3.7]

for arr in (plant_aegilops, plant_indica, plant_aestivum, plant_urartu, fungal_present,
            fungal_flavus, fungal_ruber, fungal_beauveria, fungal_albicans, fungal_exophiala,
            fungal_galactomyces, parasite_unassigned, parasite_beauveria, parasite_albicans,
            parasite_parapsilosis, parasite_exophiala):
    assert len(arr) == N, len(arr)

# ---------------------------------------------------------------- build compositions
def normalise(comp):
    tot = sum(comp.values())
    return {k: v * 100.0 / tot for k, v in comp.items()}

plant_rows = []
for i in range(N):
    if i in plant_special:
        comp = dict(plant_special[i])
    else:
        comp = dict(zip(plant_codes, plant_typical))
        comp["Aeg"] = plant_aegilops[i]
        comp["Osi"] = plant_indica[i]
        comp["Tae"] = plant_aestivum[i]
        comp["Tur"] = plant_urartu[i]
    plant_rows.append(normalise(comp))

fungal_rows = []
for i in range(N):
    if not fungal_present[i]:
        fungal_rows.append(None)
        continue
    comp = dict(zip(fungal_codes, fungal_typical))
    comp["Afl"] = fungal_flavus[i]
    comp["Aru"] = fungal_ruber[i]
    comp["Bba"] = fungal_beauveria[i]
    comp["Cal"] = fungal_albicans[i]
    comp["Ede"] = fungal_exophiala[i]
    comp["Gca"] = fungal_galactomyces[i]
    fungal_rows.append(normalise(comp))

parasite_rows = []
for i in range(N):
    comp = {"Una": parasite_unassigned[i], "Afl": parasite_minor["Afl"], "Aru": parasite_minor["Aru"],
            "Bba": parasite_beauveria[i], "Cal": parasite_albicans[i], "Cpa": parasite_parapsilosis[i],
            "Ctr": parasite_minor["Ctr"], "Clu": parasite_minor["Clu"], "Ede": parasite_exophiala[i]}
    comp["Fox"] = 100.0 - sum(comp.values())
    parasite_rows.append(comp)

# ---------------------------------------------------------------- figure
fig = go.Figure()
xs = list(range(N))


def add_stack(xref, yref, codes, colors, rows):
    for code, col in zip(codes, colors):
        ys = []
        for r in rows:
            v = None if r is None else r.get(code, 0)
            ys.append(v if v else None)
        fig.add_trace(go.Bar(x=xs, y=ys, xaxis=xref, yaxis=yref, showlegend=False,
                             hoverinfo="skip",
                             marker=dict(color=col, line=dict(color="#151515", width=2.2))))


add_stack("x", "y", plant_codes, plant_colors, plant_rows)
add_stack("x2", "y2", fungal_codes, fungal_colors, fungal_rows)
add_stack("x3", "y3", parasite_codes, parasite_colors, parasite_rows)


def fx(p):
    return p / W


def fy(p):
    return 1 - p / H


FONT = "Liberation Sans, Arial, Helvetica, sans-serif"
# pixel rows of the value 0 and the value 100 for each panel
panel_px = {"": (758, 36), "2": (1832, 1108), "3": (2853, 2127)}

layout = dict(width=W, height=H, autosize=False, margin=dict(l=0, r=0, t=0, b=0),
              paper_bgcolor="white", plot_bgcolor="white", barmode="stack", bargap=0.2,
              font=dict(family=FONT, color="#222222"), showlegend=False)
for suf, (p0, p100) in panel_px.items():
    layout["xaxis" + suf] = dict(domain=[fx(145.2), fx(2142)], range=[-0.5, N - 0.5],
                                 anchor="y" + suf, tickmode="array", tickvals=xs,
                                 ticktext=sample_labels, tickangle=-90,
                                 tickfont=dict(size=7, color="#333333", family=FONT),
                                 ticks="", showline=False, showgrid=False, zeroline=False)
    layout["yaxis" + suf] = dict(domain=[fy(p0), fy(p100)], range=[0, 100], anchor="free",
                                 position=fx(122), tickmode="array",
                                 tickvals=[0, 20, 40, 60, 80, 100],
                                 tickfont=dict(size=22, color="#333333", family=FONT),
                                 ticks="outside", ticklen=8, tickwidth=1.6, tickcolor="#333333",
                                 showline=True, linecolor="#333333", linewidth=1.6,
                                 showgrid=False, zeroline=False)

shapes = []
annotations = []
# frames and group separators
for suf in ["", "3"]:
    shapes.append(dict(type="rect", xref="x" + suf, yref="y" + suf, x0=-0.5, x1=N - 0.5, y0=0,
                       y1=100, line=dict(color="#b5b5b5", width=3), layer="below"))
    for k in group_breaks:
        shapes.append(dict(type="line", xref="x" + suf, yref="y" + suf, x0=k - 0.5, x1=k - 0.5,
                           y0=0, y1=100, line=dict(color="#c4c4c4", width=2.5), layer="above"))
for k in group_breaks:
    if fungal_present[k - 1] and fungal_present[k]:
        shapes.append(dict(type="line", xref="x2", yref="y2", x0=k - 0.5, x1=k - 0.5, y0=0,
                           y1=100, line=dict(color="#c4c4c4", width=2.5), layer="above"))

# HD / LD brackets and labels
for y_line, y_text in [(796, 827), (1867, 1895), (2885, 2913)]:
    shapes.append(dict(type="line", xref="paper", yref="paper", x0=fx(150), x1=fx(1057),
                       y0=fy(y_line), y1=fy(y_line), line=dict(color="#3a3a3a", width=2.5)))
    shapes.append(dict(type="line", xref="paper", yref="paper", x0=fx(1062), x1=fx(2142),
                       y0=fy(y_line), y1=fy(y_line), line=dict(color="#3a3a3a", width=2.5)))
    annotations.append(dict(xref="paper", yref="paper", x=fx(603), y=fy(y_text), text="HD individuals",
                            showarrow=False, xanchor="center", yanchor="middle",
                            font=dict(size=28, color="#333333", family=FONT)))
    annotations.append(dict(xref="paper", yref="paper", x=fx(1602), y=fy(y_text), text="LD individuals",
                            showarrow=False, xanchor="center", yanchor="middle",
                            font=dict(size=28, color="#333333", family=FONT)))

# axis titles and panel letters
titles = [("Proportion (%) plant reads associated with different taxa", 397, "(a)", 64),
          ("Proportion (%) fungal reads associated with different taxa", 1470, "(b)", 1134),
          ("Proportion (%) parasite reads associated with different taxa", 2490, "(c)", 2163)]
for text, yc, letter, yl in titles:
    annotations.append(dict(xref="paper", yref="paper", x=fx(50), y=fy(yc), text=text,
                            textangle=-90, showarrow=False, xanchor="center", yanchor="middle",
                            font=dict(size=26, color="#1e1e1e", family=FONT)))
    annotations.append(dict(xref="paper", yref="paper", x=fx(2172), y=fy(yl), text=letter,
                            showarrow=False, xanchor="center", yanchor="middle",
                            font=dict(size=52, color="#333333", family=FONT)))


def add_legend(labels, colors, col_x, y0, dy, per_col, size=15):
    for j, (lab, col) in enumerate(zip(labels, colors)):
        c, r = divmod(j, per_col)
        sx = col_x[c]
        yc = y0 + r * dy
        shapes.append(dict(type="rect", xref="paper", yref="paper", x0=fx(sx), x1=fx(sx + size),
                           y0=fy(yc + size / 2), y1=fy(yc - size / 2), fillcolor=col,
                           line=dict(color="#111111", width=1.6)))
        annotations.append(dict(xref="paper", yref="paper", x=fx(sx + 37), y=fy(yc), text=lab,
                                showarrow=False, xanchor="left", yanchor="middle",
                                font=dict(size=22, color="#1a1a1a", family=FONT)))


add_legend(plant_legend, plant_colors, [174, 609, 1045, 1478, 1912], 879, 28.1, 7)
add_legend(fungal_legend, fungal_colors, [70, 497, 937, 1324, 1813], 1940, 26.7, 5)

layout["shapes"] = shapes
layout["annotations"] = annotations
fig.update_layout(**layout)
fig.write_html("out.html")
